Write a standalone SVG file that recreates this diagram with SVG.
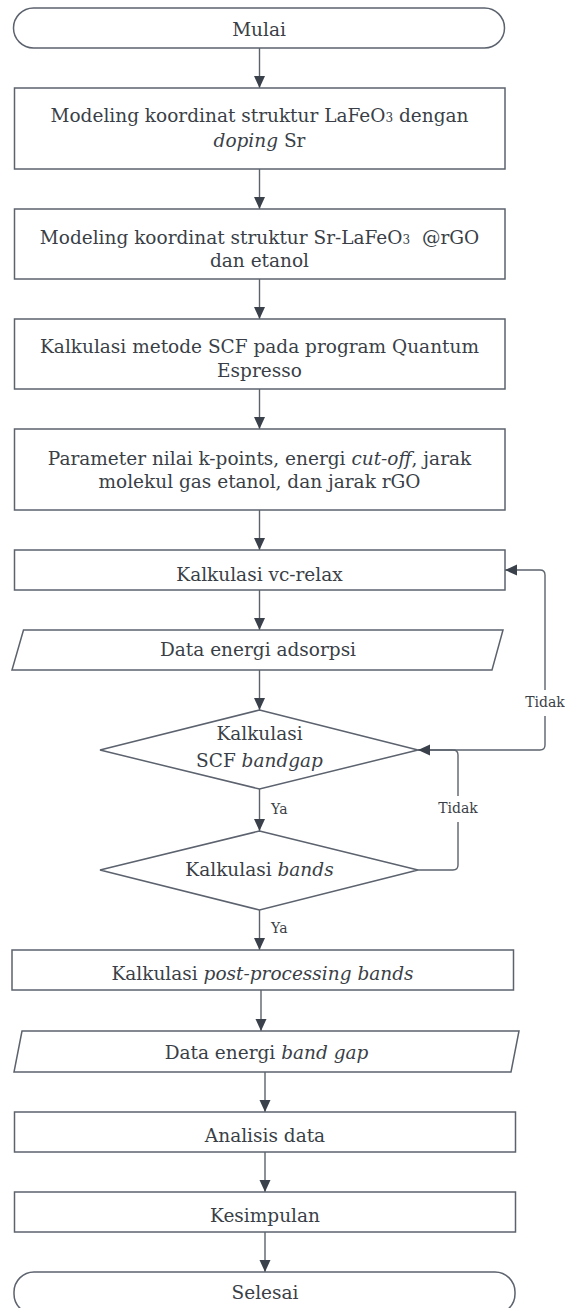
<svg xmlns="http://www.w3.org/2000/svg" width="565" height="1308" viewBox="0 0 565 1308">
<style>
  .shape { fill: #ffffff; stroke: #5c636e; stroke-width: 1.5; }
  .conn { fill: none; stroke: #5c636e; stroke-width: 1.4; }
  .t { font-family: "DejaVu Serif", "Liberation Serif", serif; font-size: 18.5px; fill: #3a3f47; text-anchor: middle; }
  .lbl { font-family: "DejaVu Serif", "Liberation Serif", serif; font-size: 14px; fill: #3a3f47; }
  .it { font-style: italic; }
  .sub { font-size: 12px; }
</style>
<defs>
  <marker id="arr" viewBox="0 0 12 12" refX="12" refY="6" markerWidth="12" markerHeight="12" markerUnits="userSpaceOnUse" orient="auto">
    <path d="M0,0.5 L12,6 L0,11.5 Z" fill="#3a414b"/>
  </marker>
</defs>
<rect width="565" height="1308" fill="#ffffff"/>

<g id="connectors">
  <line class="conn" x1="259.5" y1="48" x2="259.5" y2="88" marker-end="url(#arr)"/>
  <line class="conn" x1="259.5" y1="169" x2="259.5" y2="209" marker-end="url(#arr)"/>
  <line class="conn" x1="259.5" y1="279" x2="259.5" y2="319" marker-end="url(#arr)"/>
  <line class="conn" x1="259.5" y1="389" x2="259.5" y2="429" marker-end="url(#arr)"/>
  <line class="conn" x1="259.5" y1="510" x2="259.5" y2="550" marker-end="url(#arr)"/>
  <line class="conn" x1="259.5" y1="590" x2="259.5" y2="630" marker-end="url(#arr)"/>
  <line class="conn" x1="259.5" y1="670" x2="259.5" y2="710" marker-end="url(#arr)"/>
  <line class="conn" x1="259.5" y1="789" x2="259.5" y2="831" marker-end="url(#arr)"/>
  <line class="conn" x1="259.5" y1="910" x2="259.5" y2="950" marker-end="url(#arr)"/>
  <line class="conn" x1="261" y1="990" x2="261" y2="1031" marker-end="url(#arr)"/>
  <line class="conn" x1="265" y1="1072" x2="265" y2="1112" marker-end="url(#arr)"/>
  <line class="conn" x1="265" y1="1152" x2="265" y2="1192" marker-end="url(#arr)"/>
  <line class="conn" x1="265" y1="1232" x2="265" y2="1272" marker-end="url(#arr)"/>
  <!-- Tidak loop from SCF bandgap to vc-relax -->
  <path class="conn" d="M418,750 L540,750 Q545,750 545,745 L545,716"/>
  <path class="conn" d="M545,690 L545,575 Q545,570 540,570 L505,570" marker-end="url(#arr)"/>
  <!-- Tidak loop from bands to SCF bandgap -->
  <path class="conn" d="M418,870 L453,870 Q458,870 458,865 L458,822"/>
  <path class="conn" d="M458,796 L458,755 Q458,750 453,750 L418,750" marker-end="url(#arr)"/>
  <text class="lbl" x="545" y="707" text-anchor="middle">Tidak</text>
  <text class="lbl" x="458" y="813" text-anchor="middle">Tidak</text>
  <text class="lbl" x="271" y="814">Ya</text>
  <text class="lbl" x="271" y="933">Ya</text>
</g>

<g id="mulai">
  <rect class="shape" x="13.5" y="8" width="491" height="40" rx="20" ry="20"/>
  <text class="t" x="259" y="36">Mulai</text>
</g>

<g id="modeling-lafeo3">
  <rect class="shape" x="14.5" y="88" width="490.5" height="81"/>
  <text class="t" x="259.5" y="122">Modeling koordinat struktur LaFeO<tspan class="sub">3</tspan> dengan</text>
  <text class="t" x="259.5" y="147"><tspan class="it">doping</tspan> Sr</text>
</g>

<g id="modeling-rgo">
  <rect class="shape" x="14.5" y="209" width="490.5" height="70"/>
  <text class="t" x="259.5" y="244" xml:space="preserve">Modeling koordinat struktur Sr-LaFeO<tspan class="sub">3</tspan>  @rGO</text>
  <text class="t" x="259.5" y="267">dan etanol</text>
</g>

<g id="scf">
  <rect class="shape" x="14.5" y="319" width="490.5" height="70"/>
  <text class="t" x="259.5" y="353">Kalkulasi metode SCF pada program Quantum</text>
  <text class="t" x="259.5" y="377">Espresso</text>
</g>

<g id="parameter">
  <rect class="shape" x="14.5" y="429" width="490.5" height="81"/>
  <text class="t" x="259.5" y="465">Parameter nilai k-points, energi <tspan class="it">cut-off</tspan>, jarak</text>
  <text class="t" x="259.5" y="488">molekul gas etanol, dan jarak rGO</text>
</g>

<g id="vc-relax">
  <rect class="shape" x="14.5" y="550" width="490.5" height="40"/>
  <text class="t" x="259.5" y="581">Kalkulasi vc-relax</text>
</g>

<g id="data-adsorpsi">
  <polygon class="shape" points="23.5,630 503,630 492,670 12,670"/>
  <text class="t" x="258" y="656">Data energi adsorpsi</text>
</g>

<g id="scf-bandgap">
  <polygon class="shape" points="259.5,710 418,750 259.5,789 100,750"/>
  <text class="t" x="259.5" y="740">Kalkulasi</text>
  <text class="t" x="259.5" y="767">SCF <tspan class="it">bandgap</tspan></text>
</g>

<g id="bands">
  <polygon class="shape" points="259.5,831 418,870 259.5,910 100,870"/>
  <text class="t" x="259.5" y="876">Kalkulasi <tspan class="it">bands</tspan></text>
</g>

<g id="post-processing">
  <rect class="shape" x="12" y="950" width="501.5" height="40"/>
  <text class="t" x="262.5" y="980">Kalkulasi <tspan class="it">post-processing bands</tspan></text>
</g>

<g id="data-bandgap">
  <polygon class="shape" points="22,1031 519,1031 511,1072 14,1072"/>
  <text class="t" x="266.5" y="1059">Data energi <tspan class="it">band gap</tspan></text>
</g>

<g id="analisis">
  <rect class="shape" x="14.5" y="1112" width="501" height="40"/>
  <text class="t" x="265" y="1142">Analisis data</text>
</g>

<g id="kesimpulan">
  <rect class="shape" x="14.5" y="1192" width="501" height="40"/>
  <text class="t" x="265" y="1222">Kesimpulan</text>
</g>

<g id="selesai">
  <rect class="shape" x="14" y="1272" width="501" height="42" rx="20" ry="20"/>
  <text class="t" x="265" y="1299">Selesai</text>
</g>
</svg>
